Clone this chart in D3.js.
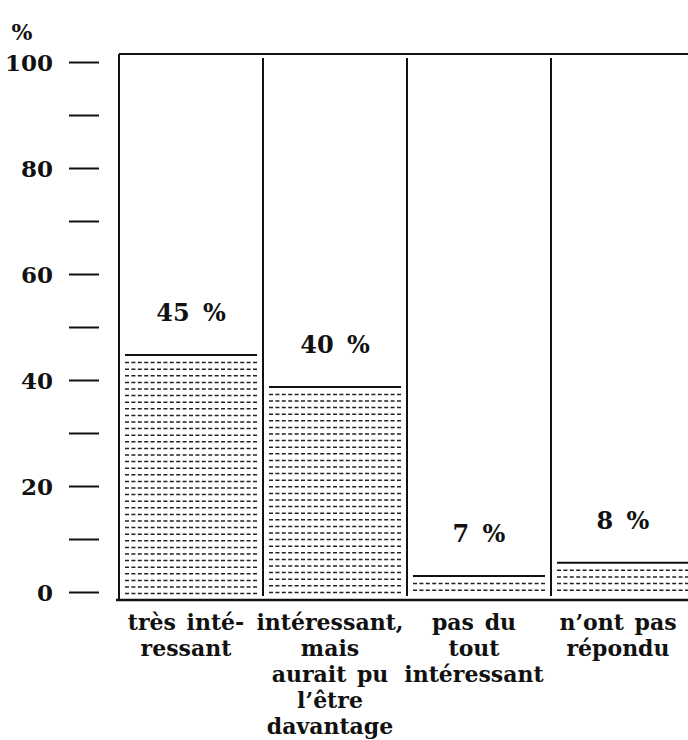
<!DOCTYPE html>
<html>
<head>
<meta charset="utf-8">
<script src="https://cdn.jsdelivr.net/npm/d3@7"></script>
<style>
  body { margin: 0; background: #fff; }
  svg text { font-family: "DejaVu Serif", serif; font-weight: bold; fill: #111; }
</style>
</head>
<body>
<div id="chart"></div>
<script>
// categories (line-broken as printed)
var categories = [
    ["très inté-", "ressant"],
    ["intéressant,", "mais", "aurait pu", "l’être", "davantage"],
    ["pas du", "tout", "intéressant"],
    ["n’ont pas", "répondu"]
]
// printed percentages
var pctLabels = [45, 40, 7, 8]
// bar heights as drawn in the figure (the drawing is not quite to scale)
var barHeights = [44.7, 38.7, 3.0, 5.5]
var tickValues = [0, 10, 20, 30, 40, 50, 60, 70, 80, 90, 100]
var tickLabels = [0, 20, 40, 60, 80, 100]

var width = 688, height = 740

var svg = d3.select("#chart")
    .append("svg")
        .attr("width", width)
        .attr("height", height)

var y = d3.scaleLinear()
    .domain([0, 100])
    .range([592, 62])

var x = d3.scaleBand()
    .domain(d3.range(categories.length))
    .range([119, 695])

// Y axis - ticks float left of the frame
var yAxisCall = d3.axisLeft(y)
    .tickValues(tickValues)
    .tickSize(30)
    .tickPadding(16)
    .tickFormat(d => tickLabels.indexOf(d) >= 0 ? d : "")
svg.append("g")
    .attr("class", "y-axis")
    .attr("transform", "translate(99,0)")
    .call(yAxisCall)
    .call(g => g.select(".domain").remove())
    .call(g => g.selectAll("line").attr("stroke", "#111").attr("stroke-width", 2))
    .call(g => g.selectAll("text")
        .attr("fill", "#111")
        .style("font-size", "23px")
        .attr("dy", "0.36em"))

// unit
svg.append("text")
    .attr("x", 22)
    .attr("y", 40)
    .attr("text-anchor", "middle")
    .style("font-size", "22px")
    .text("%")

// Frame
var top_y = y(101.5), base_y = y(-1.5)
svg.append("line")
    .attr("x1", 119).attr("x2", width)
    .attr("y1", top_y).attr("y2", top_y)
    .attr("stroke", "#111").attr("stroke-width", 2)
svg.append("line")
    .attr("x1", 119).attr("x2", 119)
    .attr("y1", top_y).attr("y2", base_y)
    .attr("stroke", "#111").attr("stroke-width", 2)
svg.append("line")
    .attr("x1", 116).attr("x2", width)
    .attr("y1", base_y).attr("y2", base_y)
    .attr("stroke", "#111").attr("stroke-width", 2.5)

// column dividers
svg.selectAll(".divider")
    .data(d3.range(1, categories.length))
    .join("line")
        .attr("class", "divider")
        .attr("x1", d => x(d)).attr("x2", d => x(d))
        .attr("y1", top_y + 4).attr("y2", base_y - 4)
        .attr("stroke", "#111").attr("stroke-width", 2)

// Bars: solid top rule + rows of dashes
var inset = 6
var bars = svg.selectAll(".bar")
    .data(barHeights)
    .join("g")
        .attr("class", "bar")

bars.append("line")
    .attr("x1", (d, i) => x(i) + inset)
    .attr("x2", (d, i) => x(i) + x.bandwidth() - inset)
    .attr("y1", d => y(d)).attr("y2", d => y(d))
    .attr("stroke", "#111").attr("stroke-width", 2)

bars.each(function(d, i) {
    var rows = d3.range(y(d) + 7.5, base_y - 5, 6.6)
    d3.select(this).selectAll(".hatch")
        .data(rows)
        .join("line")
            .attr("class", "hatch")
            .attr("x1", x(i) + inset)
            .attr("x2", x(i) + x.bandwidth() - inset)
            .attr("y1", r => r).attr("y2", r => r)
            .attr("stroke", "#222")
            .attr("stroke-width", 1.5)
            .attr("stroke-dasharray", "4,2.4")
})

// value labels
svg.selectAll(".value")
    .data(pctLabels)
    .join("text")
        .attr("class", "value")
        .attr("x", (d, i) => x(i) + x.bandwidth() / 2)
        .attr("y", (d, i) => y(barHeights[i]) - 34)
        .attr("text-anchor", "middle")
        .style("font-size", "24px")
        .style("word-spacing", "5px")
        .text(d => d + " %")

// category labels
var cat = svg.selectAll(".cat")
    .data(categories)
    .join("text")
        .attr("class", "cat")
        .attr("text-anchor", "middle")
        .style("font-size", "22px")
        .style("word-spacing", "3px")

cat.selectAll("tspan")
    .data((d, i) => d.map(t => ({ t: t, i: i })))
    .join("tspan")
        .attr("x", d => x(d.i) + x.bandwidth() / 2 - 5)
        .attr("y", (d, j) => 630 + j * 26)
        .text(d => d.t)
</script>
</body>
</html>
